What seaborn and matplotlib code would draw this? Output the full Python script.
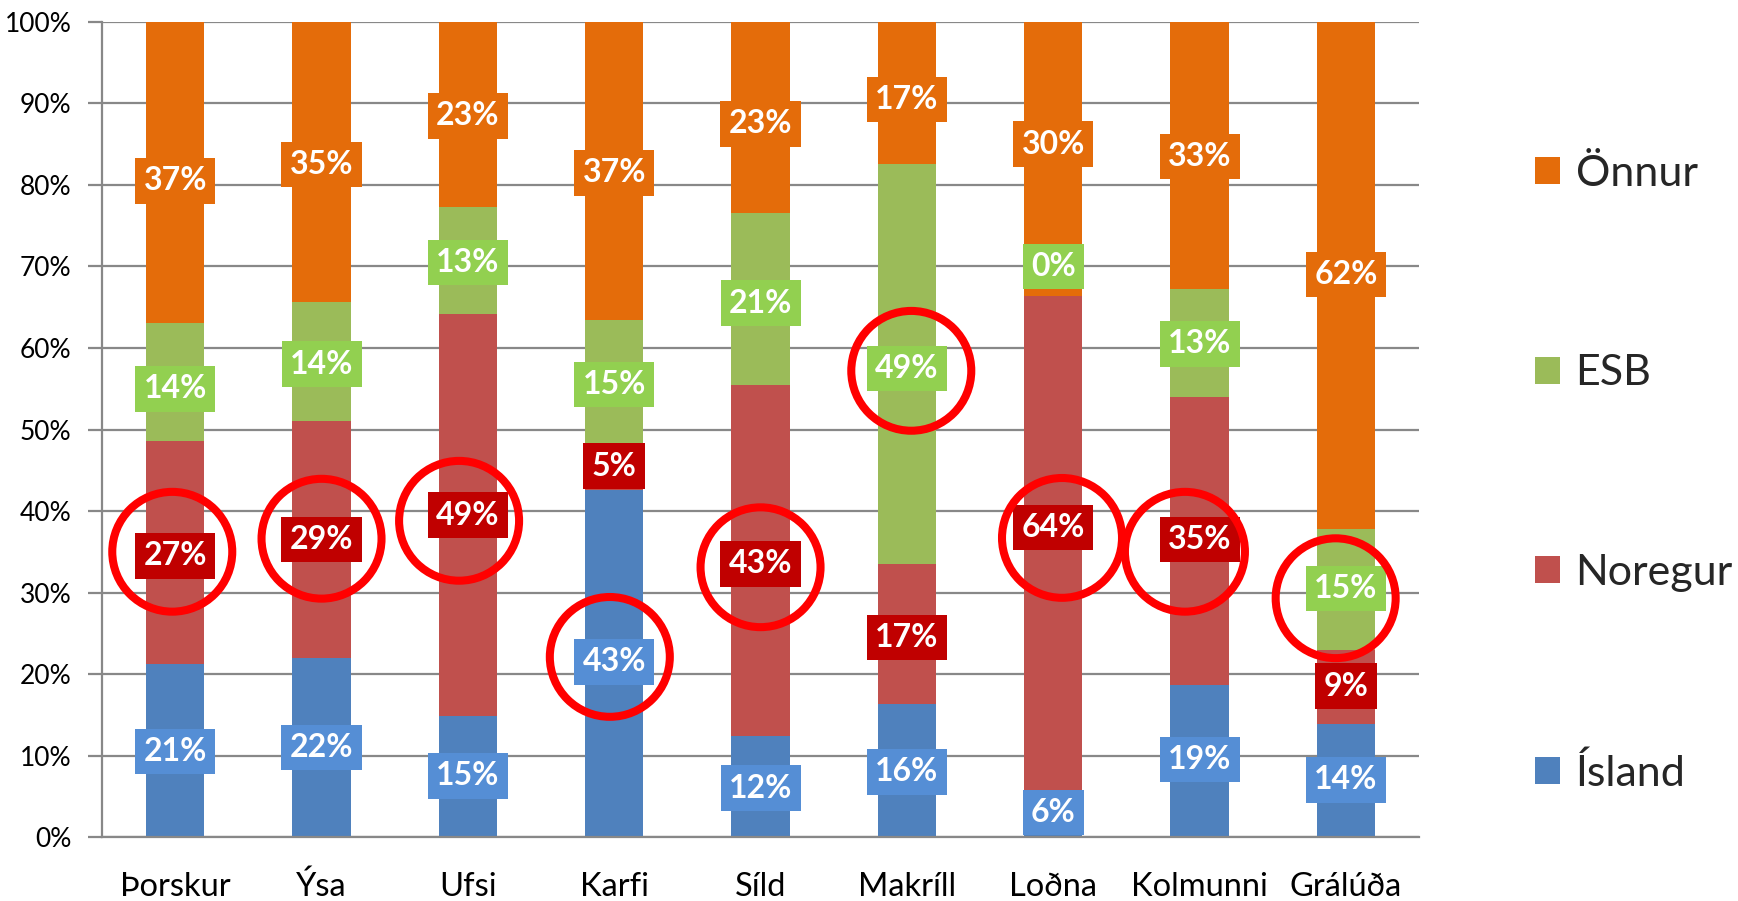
import matplotlib
matplotlib.use("Agg")
import matplotlib.pyplot as plt
from matplotlib.patches import Ellipse, Patch
import numpy as np
import pandas as pd
import seaborn as sns

# ---------------- data ----------------
categories = ["Þorskur", "Ýsa", "Ufsi", "Karfi", "Síld", "Makríll", "Loðna", "Kolmunni", "Grálúða"]
series_names = ["Ísland", "Noregur", "ESB", "Önnur"]

# segment heights as drawn (percent of total)
island = [21.2, 22.0, 14.8, 42.6, 12.4, 16.3, 5.0, 18.6, 13.9]
noregur = [27.4, 29.0, 49.4, 5.8, 43.0, 17.2, 61.4, 35.4, 9.1]
esb = [14.5, 14.6, 13.1, 15.0, 21.2, 49.1, 0.0, 13.2, 14.8]
onnur = [36.9, 34.4, 22.7, 36.6, 23.4, 17.4, 33.6, 32.8, 62.2]

# data-label values (percent)
island_lbl = [21, 22, 15, 43, 12, 16, 6, 19, 14]
noregur_lbl = [27, 29, 49, 5, 43, 17, 64, 35, 9]
esb_lbl = [14, 14, 13, 15, 21, 49, 0, 13, 15]
onnur_lbl = [37, 35, 23, 37, 23, 17, 30, 33, 62]

yticks = [0, 10, 20, 30, 40, 50, 60, 70, 80, 90, 100]

# highlighted segment per category (circled)
highlight_series = ["Noregur", "Noregur", "Noregur", "Ísland", "Noregur", "ESB", "Noregur", "Noregur", "ESB"]

# ---------------- style ----------------
bar_colors = {"Ísland": "#4F81BD", "Noregur": "#C0504D", "ESB": "#9BBB59", "Önnur": "#E46C0A"}
label_colors = {"Ísland": "#558ED5", "Noregur": "#C00000", "ESB": "#92D050", "Önnur": "#E46C0A"}
circle_offsets = [(-0.02, 0.5), (0.0, 0.1), (-0.06, -0.7), (-0.03, 0.6), (0.0, -0.4),
                  (0.03, -0.3), (0.06, -1.3), (-0.10, -1.5), (-0.07, -1.2)]

sns.set_style("white")
FONT = ["Lato", "DejaVu Sans"]
plt.rcParams["font.family"] = FONT
GRID = "#888888"

fig = plt.figure(figsize=(17.38, 9.01), dpi=100)
ax = fig.add_axes([0.0587, 0.0710, 0.7578, 0.9046])

seg = {"Ísland": island, "Noregur": noregur, "ESB": esb, "Önnur": onnur}
lbl = {"Ísland": island_lbl, "Noregur": noregur_lbl, "ESB": esb_lbl, "Önnur": onnur_lbl}

cum = np.cumsum(np.array([seg[s] for s in series_names]), axis=0)
# draw from top layer to bottom so each overlays the previous
for k in range(len(series_names) - 1, -1, -1):
    s = series_names[k]
    df = pd.DataFrame({"cat": categories, "top": cum[k]})
    sns.barplot(data=df, x="cat", y="top", order=categories, color=bar_colors[s],
                saturation=1, width=0.4, ax=ax, linewidth=0, zorder=2)

# data labels positioned at centers of label-value segments
lab_arr = np.array([lbl[s] for s in series_names], dtype=float)
lab_cum = np.cumsum(lab_arr, axis=0)
lab_pos = {}
for k, s in enumerate(series_names):
    for i in range(len(categories)):
        y = lab_cum[k, i] - lab_arr[k, i] / 2
        lab_pos[(s, i)] = y
        ax.text(i, y, f"{lbl[s][i]}%", ha="center", va="center", color="white",
                fontsize=23, fontweight="bold", zorder=5,
                bbox=dict(boxstyle="square,pad=0.26", fc=label_colors[s], ec="none"))

# red highlight circles
for i, s in enumerate(highlight_series):
    dx, dy = circle_offsets[i]
    e = Ellipse((i + dx, lab_pos[(s, i)] + dy), width=0.82, height=14.7, fill=False,
                ec="#FF0000", lw=5.8, zorder=10, clip_on=False)
    ax.add_patch(e)

# axes
ax.set_xlim(-0.5, len(categories) - 0.5)
ax.set_ylim(0, 100)
ax.set_yticks(yticks)
ax.set_yticklabels([f"{v}%" for v in yticks])
ax.set_xticks(range(len(categories)))
ax.set_xticklabels(categories)
ax.set_xticks(np.arange(-0.5, len(categories), 1.0), minor=True)
ax.set_xlabel("")
ax.set_ylabel("")
ax.grid(axis="y", color=GRID, lw=1.6, zorder=0)
ax.set_axisbelow(True)
for side in ["top", "right"]:
    ax.spines[side].set_visible(False)
for side in ["left", "bottom"]:
    ax.spines[side].set_color(GRID)
    ax.spines[side].set_linewidth(1.6)
ax.tick_params(axis="x", which="major", length=0, pad=25, labelsize=23.5, labelcolor="black")
ax.tick_params(axis="x", which="minor", length=10, width=1.6, color=GRID, direction="out")
ax.tick_params(axis="y", which="major", length=10, width=1.6, color=GRID, direction="out",
               pad=12, labelsize=19, labelcolor="black", left=True)

# legend (top to bottom: Önnur, ESB, Noregur, Ísland)
handles = [Patch(facecolor=bar_colors[s], edgecolor="none") for s in reversed(series_names)]
fig.legend(handles, list(reversed(series_names)), loc="center left",
           bbox_to_anchor=(0.883, 0.474), frameon=False, fontsize=31,
           handlelength=0.6, handleheight=0.6, handletextpad=0.35,
           labelspacing=3.75, borderpad=0, borderaxespad=0)

fig.savefig("out.png", dpi=100)
